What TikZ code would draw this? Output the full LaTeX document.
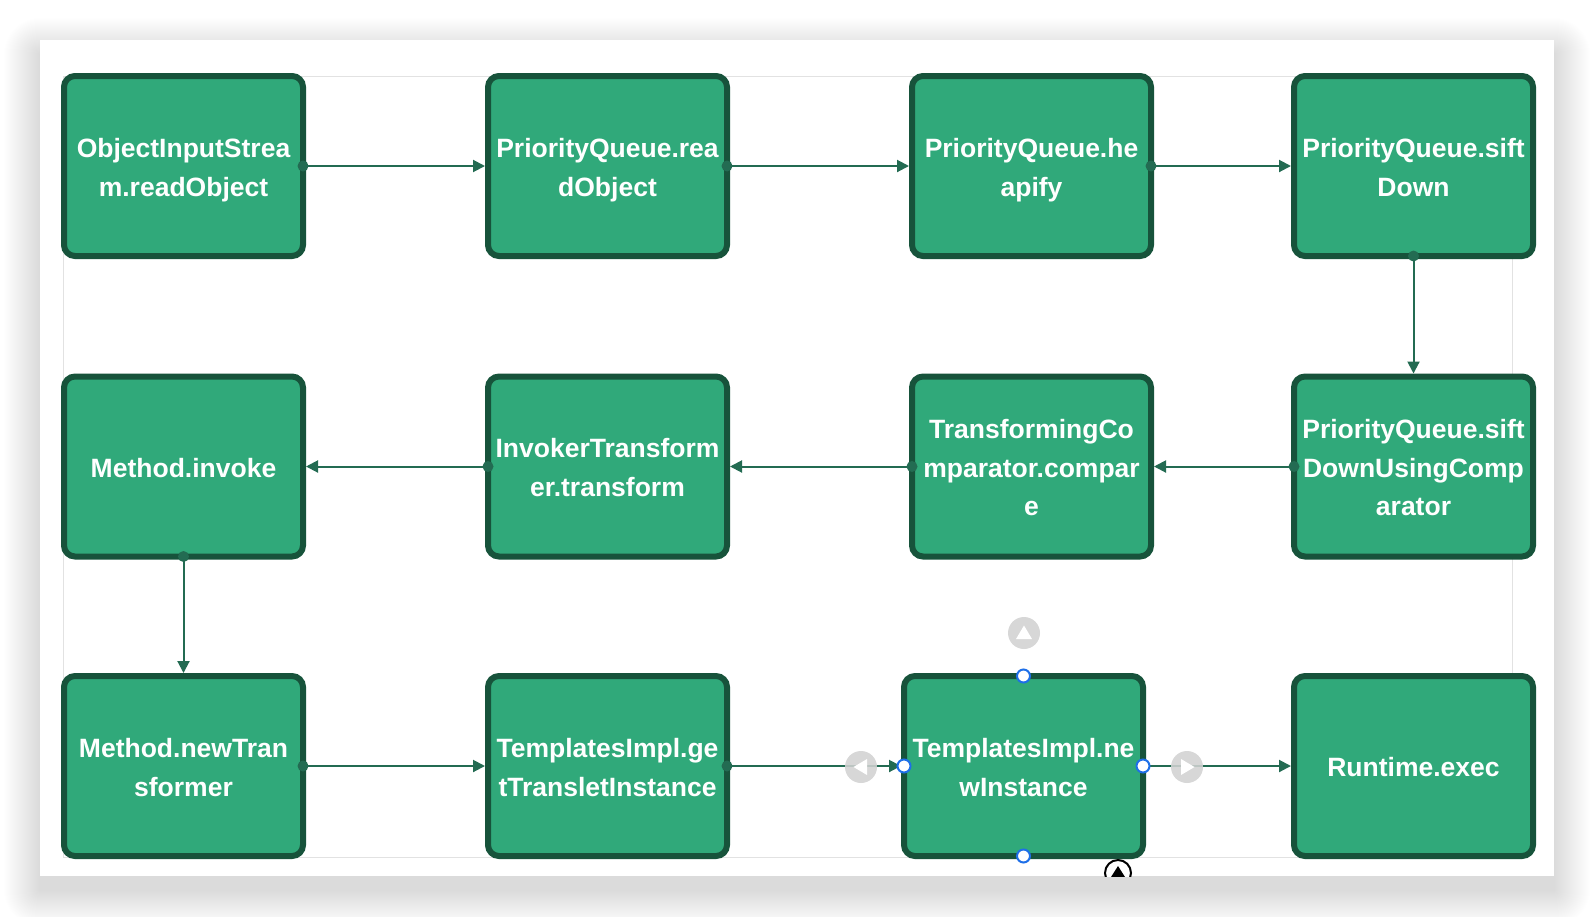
\documentclass[tikz,border=0pt]{standalone}
\usepackage{fontspec}
\setmainfont{Liberation Sans}
\usetikzlibrary{arrows.meta}
\definecolor{nodefill}{HTML}{30A97A}
\definecolor{nodeborder}{HTML}{17533B}
\definecolor{edgecol}{HTML}{236B52}
\definecolor{handleblue}{HTML}{1E6FE8}
\definecolor{btngray}{HTML}{D2D2D2}
\definecolor{framegray}{HTML}{E2E2E2}
\newcommand{\lnstrut}{\rule[-8.6pt]{0pt}{38.6pt}}
\begin{document}
\begin{tikzpicture}[x=1pt,y=-1pt,
  stepbox/.style={draw=nodeborder, fill=nodefill, line width=6pt, rounded corners=11pt,
    minimum width=239pt, minimum height=180pt, inner sep=0pt, align=center, text=white,
    font=\fontsize{26.5}{38.6}\selectfont\bfseries},
  flow/.style={draw=edgecol, line width=2pt, -{Triangle[length=12pt,width=12pt]}},
  startdot/.style={circle, fill=edgecol, inner sep=0pt, minimum size=11pt},
  handle/.style={circle, draw=handleblue, fill=white, line width=2pt, inner sep=0pt, minimum size=13pt},
  btn/.style={circle, fill=btngray, inner sep=0pt, minimum size=32pt, fill opacity=0.88}]
\useasboundingbox (0,0) rectangle (1594,916);
\fill[white] (0,0) rectangle (1594,916);
% soft shadow of the panel
\foreach \i in {1,...,36}{
  \fill[black, fill opacity=0.003, rounded corners=\i pt] (40-\i,54-\i) rectangle (1554+\i,890+\i);
}
\fill[white] (40,40) rectangle (1554,876);
\draw[framegray, line width=1pt] (63,76) rectangle (1512,857);

\node[stepbox] (n1) at (183.5,166) {\lnstrut ObjectInputStrea\\\lnstrut m.readObject};
\node[stepbox] (n2) at (607.5,166) {\lnstrut PriorityQueue.rea\\\lnstrut dObject};
\node[stepbox] (n3) at (1031.5,166) {\lnstrut PriorityQueue.he\\\lnstrut apify};
\node[stepbox] (n4) at (1413.5,166) {\lnstrut PriorityQueue.sift\\\lnstrut Down};
\node[stepbox] (n5) at (1413.5,466.5) {\lnstrut PriorityQueue.sift\\\lnstrut DownUsingComp\\\lnstrut arator};
\node[stepbox] (n6) at (1031.5,466.5) {\lnstrut TransformingCo\\\lnstrut mparator.compar\\\lnstrut e};
\node[stepbox] (n7) at (607.5,466.5) {\lnstrut InvokerTransform\\\lnstrut er.transform};
\node[stepbox] (n8) at (183.5,466.5) {\lnstrut Method.invoke};
\node[stepbox] (n9) at (183.5,766) {\lnstrut Method.newTran\\\lnstrut sformer};
\node[stepbox] (n10) at (607.5,766) {\lnstrut TemplatesImpl.ge\\\lnstrut tTransletInstance};
\node[stepbox] (n11) at (1023.5,766) {\lnstrut TemplatesImpl.ne\\\lnstrut wInstance};
\node[stepbox] (n12) at (1413.5,766) {\lnstrut Runtime.exec};

% edges with start dots
\draw[flow] ([xshift=-3pt]n1.east) -- (n2.west);
\node[startdot] at ([xshift=-3pt]n1.east) {};
\draw[flow] ([xshift=-3pt]n2.east) -- (n3.west);
\node[startdot] at ([xshift=-3pt]n2.east) {};
\draw[flow] ([xshift=-3pt]n3.east) -- (n4.west);
\node[startdot] at ([xshift=-3pt]n3.east) {};
\draw[flow] ([yshift=3pt]n4.south) -- (n5.north);
\node[startdot] at ([yshift=3pt]n4.south) {};
\draw[flow] ([xshift=3pt]n5.west) -- (n6.east);
\node[startdot] at ([xshift=3pt]n5.west) {};
\draw[flow] ([xshift=3pt]n6.west) -- (n7.east);
\node[startdot] at ([xshift=3pt]n6.west) {};
\draw[flow] ([xshift=3pt]n7.west) -- (n8.east);
\node[startdot] at ([xshift=3pt]n7.west) {};
\draw[flow] ([yshift=3pt]n8.south) -- (n9.north);
\node[startdot] at ([yshift=3pt]n8.south) {};
\draw[flow] ([xshift=-3pt]n9.east) -- (n10.west);
\node[startdot] at ([xshift=-3pt]n9.east) {};
\draw[flow] ([xshift=-3pt]n10.east) -- (n11.west);
\node[startdot] at ([xshift=-3pt]n10.east) {};
\draw[flow] ([xshift=-3pt]n11.east) -- (n12.west);

% selection handles on n11
\node[handle] (hl) at ([xshift=3pt]n11.west) {};
\node[handle] (hr) at ([xshift=-3pt]n11.east) {};
\node[handle] (ht) at ([yshift=-3pt]n11.north) {};
\node[handle] (hb) at ([yshift=3pt]n11.south) {};

% gray arrow buttons
\node[btn] (bl) at (861,767) {};
\node[btn] (br) at (1187,767) {};
\node[btn] (bt) at (1024,633) {};
\fill[white] ([xshift=-7.5pt]bl.center) -- ([xshift=6pt,yshift=8pt]bl.center) -- ([xshift=6pt,yshift=-8pt]bl.center) -- cycle;
\fill[white] ([xshift=7.5pt]br.center) -- ([xshift=-6pt,yshift=8pt]br.center) -- ([xshift=-6pt,yshift=-8pt]br.center) -- cycle;
\fill[white] ([yshift=7.5pt]bt.center) -- ([xshift=8pt,yshift=-6pt]bt.center) -- ([xshift=-8pt,yshift=-6pt]bt.center) -- cycle;

% small black button, clipped at panel bottom
\begin{scope}
\clip (40,40) rectangle (1554,876);
\node[circle, draw=black, fill=white, line width=2pt, inner sep=0pt, minimum size=26pt] (bb) at (1118,873) {};
\fill[black] ([yshift=7pt]bb.center) -- ([xshift=7pt,yshift=-4pt]bb.center) -- ([xshift=-7pt,yshift=-4pt]bb.center) -- cycle;
\end{scope}
\end{tikzpicture}
\end{document}
